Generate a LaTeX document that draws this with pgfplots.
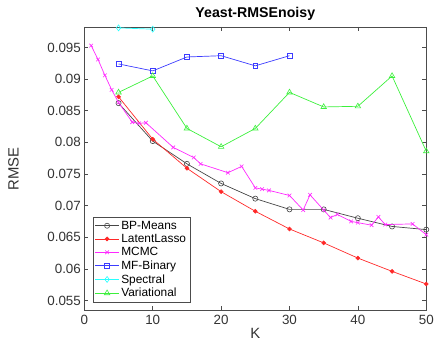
\documentclass[border=0pt]{standalone}
\usepackage{pgfplots}
\pgfplotsset{compat=1.18}
\usepackage{fontspec}
\setmainfont{Liberation Sans}
\definecolor{cBP}{RGB}{70,70,70}
\definecolor{cLL}{RGB}{255,40,40}
\definecolor{cMC}{RGB}{255,40,255}
\definecolor{cMF}{RGB}{60,60,255}
\definecolor{cSP}{RGB}{40,255,255}
\definecolor{cVA}{RGB}{60,240,60}
\begin{document}
\begin{tikzpicture}
\begin{axis}[
  scale only axis,
  width=345pt, height=286pt,
  xmin=0, xmax=50, ymin=0.05343, ymax=0.09825,
  clip mode=individual,
  xtick={0,10,20,30,40,50},
  ytick={0.055,0.06,0.065,0.07,0.075,0.08,0.085,0.09,0.095},
  yticklabel style={/pgf/number format/fixed,/pgf/number format/precision=3},
  /pgf/number format/assume math mode=true,
  scaled y ticks=false,
  tick align=inside,
  tick pos=both,
  major tick length=4pt,
  axis line style={black!70, line width=0.6pt},
  tick style={black!70, line width=0.6pt},
  ticklabel style={font=\fontsize{13.5}{15}\selectfont, text=black!80},
  xticklabel style={yshift=-1pt},
  xlabel={K}, ylabel={RMSE},
  label style={font=\fontsize{15}{17}\selectfont, text=black!80},
  ylabel style={yshift=17pt, inner ysep=8.33pt},
  xlabel style={yshift=3pt},
  title={\textbf{Yeast-RMSEnoisy}},
  title style={font=\fontsize{14.3}{16}\selectfont, yshift=-7pt, inner ysep=7.33pt},
  legend style={at={(0.024,0.028)}, anchor=south west, font=\fontsize{12}{14}\selectfont,
    draw=black!70, line width=0.6pt, row sep=-0.4pt, inner sep=2pt,
    legend image code/.code={\draw[mark repeat=2,mark phase=2] plot coordinates {(0pt,0pt) (12pt,0pt) (24pt,0pt)};}},
  legend cell align=left,
  every axis plot/.append style={line width=0.7pt, mark size=2.6pt, mark options={solid, line width=0.6pt}},
]
\addplot[color=cBP, mark=o] coordinates {
(5,0.0862) (10,0.0802) (15,0.0766) (20,0.0735) (25,0.0711) (30,0.0694) (35,0.0694) (40,0.0680) (45,0.0667) (50,0.0662)};
\addlegendentry{BP-Means}
\addplot[color=cLL, mark=*, mark size=2pt] coordinates {
(5,0.0872) (10,0.0805) (15,0.0759) (20,0.0722) (25,0.0691) (30,0.0663) (35,0.0641) (40,0.0617) (45,0.0596) (50,0.0576)};
\addlegendentry{LatentLasso}
\addplot[color=cMC, mark=x] coordinates {
(1,0.0953) (2,0.0931) (3,0.0906) (4,0.0883) (5,0.0863) (7,0.0832) (8,0.0830) (9,0.0831)
(13,0.0792) (16,0.0776) (17,0.0766) (21,0.0752) (23,0.0762) (25,0.0728) (26,0.0726) (27,0.0724)
(30,0.0716) (32,0.0693) (33,0.0717) (35,0.0693) (36,0.0681) (37,0.0686) (39,0.0675) (40,0.0673)
(42,0.0669) (43,0.0682) (44,0.0670) (48,0.0671) (50,0.0654)};
\addlegendentry{MCMC}
\addplot[color=cMF, mark=square, mark size=2.4pt] coordinates {
(5,0.0924) (10,0.0913) (15,0.0935) (20,0.0937) (25,0.0921) (30,0.0937)};
\addlegendentry{MF-Binary}
\addplot[color=cSP, mark=diamond, mark size=3pt] coordinates {
(5,0.0981) (10,0.0979)};
\addlegendentry{Spectral}
\addplot[color=cVA, mark=triangle, mark size=3.2pt] coordinates {
(5,0.0879) (10,0.0905) (15,0.0822) (20,0.0793) (25,0.0822) (30,0.0879) (35,0.0856) (40,0.0857) (45,0.0905) (50,0.0786)};
\addlegendentry{Variational}
\end{axis}
\end{tikzpicture}
\end{document}
